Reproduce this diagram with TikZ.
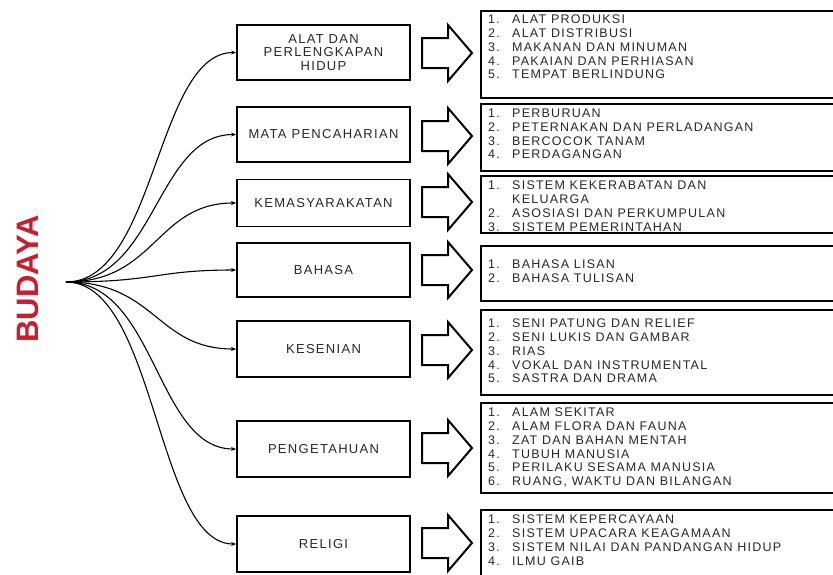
\documentclass[tikz,border=0pt]{standalone}
\usepackage{fontspec}
\setmainfont{Liberation Sans}[LetterSpace=10]
\usetikzlibrary{arrows.meta}
\definecolor{budred}{RGB}{200,30,48}
\definecolor{ink}{RGB}{40,40,40}
\tikzset{
  leftbox/.style={draw=black, line width=1.8pt, minimum width=173pt, align=center, inner sep=0pt,
    text=ink, font=\fontsize{13}{13.5}\selectfont},
  rightbox/.style={draw=black, line width=2.2pt, inner sep=0pt, anchor=north west},
  listtext/.style={anchor=north west, inner sep=0pt, align=left, text=ink,
    font=\fontsize{12.5}{13.7}\selectfont},
  conn/.style={line width=1.1pt, -{Stealth[length=5pt,width=4pt]}},
  blockarrow/.style={draw=black, line width=2pt, fill=white, line join=miter},
}
\newcommand{\itm}[2]{\makebox[24pt][l]{#1}#2}
\begin{document}
\begin{tikzpicture}[x=1pt,y=-1pt]
\useasboundingbox (0,0) rectangle (833,574);
\fill[white] (0,0) rectangle (833,574);

% title
\node[rotate=90, text=budred, inner sep=0pt, font=\bfseries\fontsize{31}{31}\selectfont\addfontfeature{LetterSpace=0}] (budaya) at (28,279) {BUDAYA};
\coordinate (O) at (66,282);

% left boxes
\node[leftbox, minimum height=55pt] (b1) at (323.5,52.5) {ALAT DAN\\PERLENGKAPAN\\HIDUP};
\node[leftbox, minimum height=55pt] (b2) at (323.5,134.5) {MATA PENCAHARIAN};
\node[leftbox, minimum height=47pt] (b3) at (323.5,203) {KEMASYARAKATAN};
\node[leftbox, minimum height=54pt] (b4) at (323.5,270) {BAHASA};
\node[leftbox, minimum height=56pt] (b5) at (323.5,349) {KESENIAN};
\node[leftbox, minimum height=56pt] (b6) at (323.5,449) {PENGETAHUAN};
\node[leftbox, minimum height=56pt] (b7) at (323.5,544) {RELIGI};

% connectors
\foreach \b in {b1,b2,b3,b4,b5,b6,b7}{
  \draw[conn] (O) .. controls +(90,0) and +(-80,0) .. (\b.west);
}

% block arrows
\foreach \n/\y in {a1/53, a2/136, a3/202, a4/270, a5/350, a6/448, a7/543}{
  \coordinate (\n) at (447,\y);
  \draw[blockarrow, shift={(\n)}] (-25,-15) -- (1,-15) -- (1,-28) -- (25,0) -- (1,28) -- (1,15) -- (-25,15) -- cycle;
}

% right boxes
\node[rightbox, minimum width=380pt, minimum height=87pt] (r1) at (480,10) {};
\node[rightbox, minimum width=380pt, minimum height=67pt] (r2) at (480,103) {};
\node[rightbox, minimum width=380pt, minimum height=57pt] (r3) at (480,175) {};
\node[rightbox, minimum width=380pt, minimum height=55pt] (r4) at (480,245) {};
\node[rightbox, minimum width=380pt, minimum height=85pt] (r5) at (480,309) {};
\node[rightbox, minimum width=380pt, minimum height=90pt] (r6) at (480,402) {};
\node[rightbox, minimum width=380pt, minimum height=75pt] (r7) at (480,509) {};

% list texts
\node[listtext] (t1) at (488,15) {\itm{1.}{ALAT PRODUKSI}\\\itm{2.}{ALAT DISTRIBUSI}\\\itm{3.}{MAKANAN DAN MINUMAN}\\\itm{4.}{PAKAIAN DAN PERHIASAN}\\\itm{5.}{TEMPAT BERLINDUNG}};
\node[listtext] (t2) at (488,109) {\itm{1.}{PERBURUAN}\\\itm{2.}{PETERNAKAN DAN PERLADANGAN}\\\itm{3.}{BERCOCOK TANAM}\\\itm{4.}{PERDAGANGAN}};
\node[listtext] (t3) at (488,181) {\itm{1.}{SISTEM KEKERABATAN DAN}\\\itm{}{KELUARGA}\\\itm{2.}{ASOSIASI DAN PERKUMPULAN}\\\itm{3.}{SISTEM PEMERINTAHAN}};
\node[listtext] (t4) at (488,260) {\itm{1.}{BAHASA LISAN}\\\itm{2.}{BAHASA TULISAN}};
\node[listtext] (t5) at (488,319) {\itm{1.}{SENI PATUNG DAN RELIEF}\\\itm{2.}{SENI LUKIS DAN GAMBAR}\\\itm{3.}{RIAS}\\\itm{4.}{VOKAL DAN INSTRUMENTAL}\\\itm{5.}{SASTRA DAN DRAMA}};
\node[listtext] (t6) at (488,408) {\itm{1.}{ALAM SEKITAR}\\\itm{2.}{ALAM FLORA DAN FAUNA}\\\itm{3.}{ZAT DAN BAHAN MENTAH}\\\itm{4.}{TUBUH MANUSIA}\\\itm{5.}{PERILAKU SESAMA MANUSIA}\\\itm{6.}{RUANG, WAKTU DAN BILANGAN}};
\node[listtext] (t7) at (488,515) {\itm{1.}{SISTEM KEPERCAYAAN}\\\itm{2.}{SISTEM UPACARA KEAGAMAAN}\\\itm{3.}{SISTEM NILAI DAN PANDANGAN HIDUP}\\\itm{4.}{ILMU GAIB}};
\end{tikzpicture}
\end{document}
